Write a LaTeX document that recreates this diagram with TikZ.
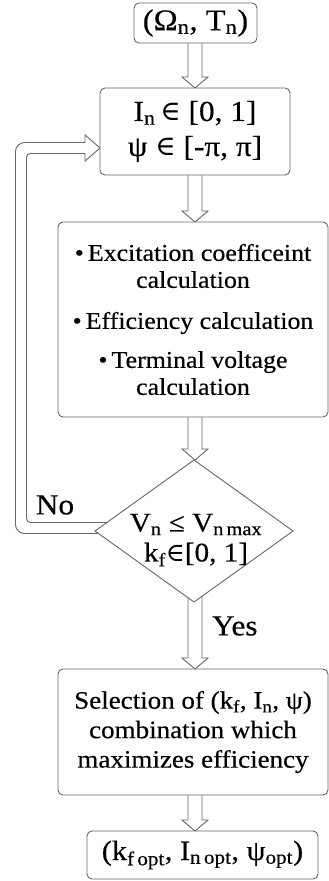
\documentclass[tikz,border=0pt]{standalone}
\usepackage{fontspec}
\setmainfont[FakeStretch=1.08,FakeBold=0.4]{Liberation Serif}
\newfontfamily\symf[Scale=0.95]{DejaVu Serif}
\usetikzlibrary{calc,shapes.geometric,backgrounds}
\newcommand\sbs[1]{\textsubscript{#1}}
\newcommand\elem{{\symf ∈}}
\begin{document}
\begin{tikzpicture}[x=1pt,y=1pt,
  every node/.style={inner sep=0pt, outer sep=0pt},
  ln/.style={draw=black!60, line width=0.9pt},
  box/.style={ln, fill=white, rounded corners=5pt, align=center},
  lbl/.style={font=\fontsize{29}{32}\selectfont}]
\useasboundingbox (0,0) rectangle (329,-881);
\coordinate (xc) at (195,0);
\coordinate (lx) at (21,0);

\node[box, minimum width=123pt, minimum height=40pt, font=\fontsize{30}{34}\selectfont] (in) at (195.5,-23) {(Ω\sbs{n}, T\sbs{n})};
\node[box, minimum width=190pt, minimum height=87pt, font=\fontsize{29}{35}\selectfont] (rng) at (195,-131.5) {I\sbs{n}\,\elem{} [0, 1]\\ ψ \elem{} [-π, π]};
\node[box, minimum width=270pt, minimum height=195pt, font=\fontsize{24}{27}\selectfont] (calc) at (193,-319.5) {•\,Excitation coefficeint\\ calculation\\[14pt] •\,Efficiency calculation\\[12pt] •\,Terminal voltage\\ calculation};
\node[diamond, ln, fill=white, minimum width=198pt, minimum height=142pt] (d) at (194,-531) {};
\node[align=center, font=\fontsize{27}{30}\selectfont] (dt) at (196,-540) {V\sbs{n} ≤ V\sbs{n\,max}\\ k\sbs{f}\elem[0, 1]};
\node[box, minimum width=270pt, minimum height=126pt, font=\fontsize{25}{29.5}\selectfont] (sel) at (193,-732) {Selection of (k\sbs{f}, I\sbs{n}, ψ)\\ combination which\\ maximizes efficiency};
\node[box, minimum width=231pt, minimum height=48pt, font=\fontsize{28}{32}\selectfont] (out) at (202.5,-855) {(k\sbs{f\,opt}, I\sbs{n\,opt}, ψ\sbs{opt})};
\node[lbl] (no) at (55,-505) {No};
\node[lbl, anchor=west] (yes) at (212,-626) {Yes};

\newcommand\hollowarrow[2]{%
  \draw[ln, line join=miter] ($(#1 -| xc)+(-7,0)$) -- ($(#2 -| xc)+(-7,11)$) -- ++(-6,0) -- (#2 -| xc) -- ($(#2 -| xc)+(13,11)$) -- ++(-6,0) -- ($(#1 -| xc)+(7,0)$);}

\begin{scope}[on background layer]
  \hollowarrow{in.south}{rng.north}
  \hollowarrow{rng.south}{calc.north}
  \hollowarrow{calc.south}{d.north}
  \draw[ln, line join=miter] ($(d.south -| xc)+(-7,20)$) -- ($(sel.north -| xc)+(-7,11)$) -- ++(-6,0) -- (sel.north -| xc) -- ($(sel.north -| xc)+(13,11)$) -- ++(-6,0) -- ($(d.south -| xc)+(7,20)$);
  \hollowarrow{sel.south}{out.north}
  % loop back (No)
  \coordinate (lb) at ($(d.west)+(0,3)$);
  \coordinate (lt) at ($(rng.west)+(0,-16.5)$);
  \draw[ln, rounded corners=9pt] ($(lb)+(18,-5.5)$) -- ($(lb -| lx)+(-5.5,-5.5)$) -- ($(lt -| lx)+(-5.5,5.5)$) -- ($(lt)+(-15,5.5)$);
  \draw[ln, rounded corners=4pt] ($(lb)+(18,5.5)$) -- ($(lb -| lx)+(5.5,5.5)$) -- ($(lt -| lx)+(5.5,-5.5)$) -- ($(lt)+(-15,-5.5)$);
  \draw[ln, line join=miter] ($(lt)+(-15,5.5)$) -- ($(lt)+(-15,13)$) -- (lt) -- ($(lt)+(-15,-13)$) -- ($(lt)+(-15,-5.5)$);
\end{scope}
\end{tikzpicture}
\end{document}
